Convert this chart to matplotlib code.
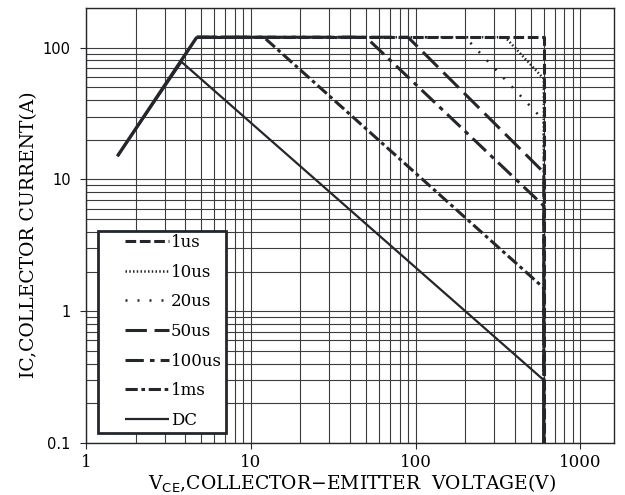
import matplotlib
matplotlib.use("Agg")
import matplotlib.pyplot as plt
from matplotlib.patches import Rectangle
from matplotlib.ticker import LogLocator, NullFormatter, FixedLocator, FixedFormatter

# safe operating area
rise_v = [1.55, 4.7]
rise_i = [15, 120]

labels = ["1us", "10us", "20us", "50us", "100us", "1ms", "DC"]
v_1us = [4.7, 600, 600]
i_1us = [120, 120, 0.1]
v_10us = [4.7, 350, 600, 600]
i_10us = [120, 120, 58, 0.1]
v_20us = [4.7, 200, 600, 600]
i_20us = [120, 120, 28, 0.1]
v_50us = [4.7, 90, 600, 600]
i_50us = [120, 120, 11.3, 0.1]
v_100us = [4.7, 50, 600, 600]
i_100us = [120, 120, 6.3, 0.1]
v_1ms = [4.7, 12, 600, 600]
i_1ms = [120, 120, 1.5, 0.1]
v_dc = [1.55, 3.8, 600, 600]
i_dc = [15, 78, 0.3, 0.1]

x_ticks = [1, 10, 100, 1000]
x_ticklabels = ["1", "10", "100", "1000"]
y_ticks = [0.1, 1, 10, 100]
y_ticklabels = ["0.1", "1", "10", "100"]

ink = "#23262b"
serif = "DejaVu Serif"
plt.rcParams["mathtext.fontset"] = "dejavuserif"

fig = plt.figure(figsize=(6.25, 4.95), dpi=100)
ax = fig.add_axes([86 / 625, 52 / 495, 528 / 625, 435 / 495])
ax.set_xscale("log")
ax.set_yscale("log")
ax.set_xlim(1, 1600)
ax.set_ylim(0.1, 200)

# grid first so the curves sit on top
ax.grid(True, which="both", color="#3c3c3c", linewidth=0.8)
ax.set_axisbelow(True)

series = [
    (v_1us, i_1us, (0, (3.5, 1.2)), 2.2),
    (v_10us, i_10us, (0, (0.6, 0.9)), 1.8),
    (v_20us, i_20us, (0, (0.8, 4.0)), 1.8),
    (v_50us, i_50us, (0, (7, 2.5)), 2.2),
    (v_100us, i_100us, (0, (6, 2, 1.5, 2)), 2.2),
    (v_1ms, i_1ms, (0, (4, 1.2, 1.2, 1.2)), 2.2),
    (v_dc, i_dc, "-", 1.6),
]
for (v, i, ls, lw), lab in zip(series, labels):
    ax.plot(v, i, color=ink, linestyle=ls, linewidth=lw, label=lab,
            solid_capstyle="butt", dash_capstyle="butt")
ax.plot(rise_v, rise_i, color=ink, linewidth=2.4, solid_capstyle="butt")

ax.xaxis.set_major_locator(FixedLocator(x_ticks))
ax.xaxis.set_major_formatter(FixedFormatter(x_ticklabels))
ax.xaxis.set_minor_locator(LogLocator(base=10, subs=range(2, 10), numticks=20))
ax.xaxis.set_minor_formatter(NullFormatter())
ax.yaxis.set_major_locator(FixedLocator(y_ticks))
ax.yaxis.set_major_formatter(FixedFormatter(y_ticklabels))
ax.yaxis.set_minor_locator(LogLocator(base=10, subs=range(2, 10), numticks=20))
ax.yaxis.set_minor_formatter(NullFormatter())

ax.tick_params(which="major", direction="out", length=4, width=0.8, color=ink)
ax.tick_params(which="minor", length=0)
ax.tick_params(axis="x", labelsize=12, pad=4)
ax.tick_params(axis="y", labelsize=10.5, pad=7)
for t in ax.get_xticklabels():
    t.set_family(serif)
for s in ax.spines.values():
    s.set_color(ink)
    s.set_linewidth(1.0)

ax.set_xlabel(r"V$_{\mathsf{CE}}$,COLLECTOR−EMITTER  VOLTAGE(V)",
              family=serif, fontsize=13.5, va="bottom")
ax.xaxis.set_label_coords(0.504, -0.118)
ax.set_ylabel("IC,COLLECTOR CURRENT(A)", family=serif, fontsize=13.5)
ax.yaxis.set_label_coords(-0.091, 0.478)

# legend frame drawn separately so the entries can sit off-centre like the original
ax.add_patch(Rectangle((0.0227, 0.023), 0.2424, 0.4644, transform=ax.transAxes,
                       facecolor="white", edgecolor=ink, linewidth=2.0, zorder=4))
leg = ax.legend(loc="upper left", bbox_to_anchor=(0.0739, 0.4805), borderaxespad=0,
                prop={"family": serif, "size": 12}, handlelength=2.65,
                handletextpad=0.1, labelspacing=0.76, borderpad=0,
                frameon=False)
leg.set_zorder(5)

fig.savefig("out.png", dpi=100)
